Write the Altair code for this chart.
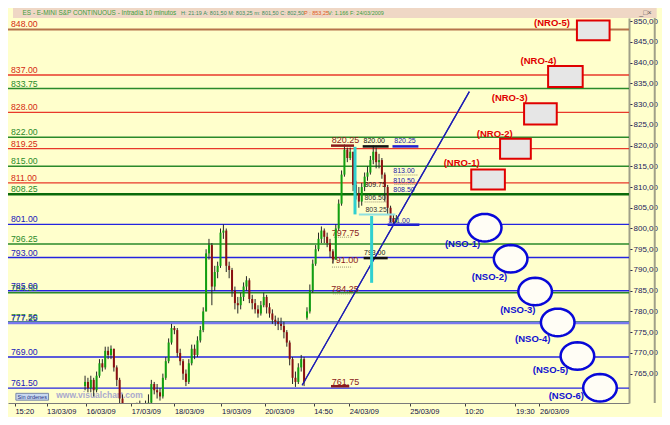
import math
import altair as alt
import pandas as pd

FONT = "Liberation Sans"
W, H = 621, 385

# ---------------- data ----------------
# horizontal support / resistance levels
level_values = [848.00, 837.00, 833.75, 828.00, 822.00, 819.25, 815.00, 811.00, 808.25,
                801.00, 796.25, 793.00, 784.50, 785.00, 777.50, 777.25, 769.00, 761.50]
level_labels = ["848.00", "837.00", "833.75", "828.00", "822.00", "819.25", "815.00", "811.00", "808.25",
                "801.00", "796.25", "793.00", "784.50", "785.00", "777.50", "777.25", "769.00", "761.50"]
level_kinds = ["brown", "red", "green", "red", "green", "red", "green", "red", "dkgreen",
               "blue", "green", "blue", "green", "blue", "green", "lav", "blue", "blue"]

# candles (time slot, open, high, low, close)
candle_slot = [75, 78, 81, 84, 87, 90, 93, 96, 99, 102, 105, 108, 111, 114, 117, 120, 123, 126, 129,
               132, 135, 138, 141, 144, 147, 150, 153, 156, 159, 162, 165, 168, 171, 174, 177, 180,
               183, 186, 189, 192, 195, 198, 201, 204, 207, 210, 213, 216, 219, 222, 225, 228, 231,
               234, 237, 240, 243, 246, 249, 252, 255, 258, 261, 264, 267, 270, 273, 276, 279, 282,
               285, 288, 291, 294, 297, 300, 303, 306, 309, 312, 315, 318, 321, 324, 327, 330, 333,
               336, 339, 342, 345, 348, 351, 354, 357, 360, 363, 366, 369, 372, 375, 378, 381, 384,
               387, 390, 393, 396, 399]
candle_open = [762.0, 763.0, 761.5, 763.5, 761.0, 764.5, 767.5, 766.5, 770.5, 769.5, 771.0, 766.5, 763.5,
               759.0, 756.0, 754.5, 753.5, 754.5, 755.5, 757.0, 756.0, 755.0, 757.5, 758.0, 762.5, 761.0,
               760.5, 759.5, 764.0, 768.0, 772.5, 776.0, 775.5, 770.0, 768.0, 765.0, 763.0, 767.5, 771.0,
               769.5, 773.0, 775.5, 780.0, 794.0, 796.0, 786.0, 789.5, 791.0, 799.0, 799.5, 791.0, 790.0,
               785.0, 782.0, 781.5, 783.5, 786.0, 787.5, 783.0, 782.0, 780.5, 779.5, 781.5, 783.5, 781.0,
               779.5, 778.0, 777.5, 777.0, 776.5, 775.0, 772.5, 768.5, 764.0, 763.0, 766.5, 768.5, 778.5,
               780.0, 785.0, 791.5, 795.0, 797.5, 799.5, 798.0, 796.5, 794.5, 792.5, 800.0, 806.0, 813.0,
               819.0, 817.0, 818.5, 810.5, 808.5, 806.5, 810.0, 812.5, 813.5, 816.5, 818.5, 816.0, 816.5,
               813.0, 810.0, 805.0, 802.5, 801.5]
candle_high = [764.5, 764.0, 764.5, 764.0, 765.5, 768.5, 768.5, 771.5, 771.5, 771.8, 771.0, 767.0, 764.0,
               760.0, 757.0, 755.5, 755.5, 756.5, 758.0, 758.5, 757.0, 758.5, 760.0, 763.5, 763.0, 762.5,
               761.5, 765.0, 769.0, 773.5, 777.0, 776.5, 776.0, 771.0, 768.5, 766.0, 768.5, 772.0, 772.0,
               774.0, 776.5, 781.0, 795.0, 797.5, 796.5, 791.0, 792.0, 800.0, 801.0, 800.0, 792.0, 790.5,
               786.0, 783.5, 784.5, 787.0, 788.5, 788.0, 784.0, 783.0, 781.5, 782.5, 784.5, 784.0, 782.0,
               780.5, 779.0, 778.5, 778.5, 777.5, 775.5, 773.0, 769.0, 765.5, 767.5, 769.5, 769.0, 781.0,
               786.5, 792.5, 796.0, 799.0, 800.5, 800.0, 799.0, 797.5, 795.0, 801.0, 807.0, 814.0, 820.25,
               819.5, 819.5, 818.5, 811.5, 810.0, 811.0, 813.5, 815.0, 817.5, 820.0, 819.5, 818.0, 817.0,
               813.5, 810.5, 805.5, 803.5, 803.25]
candle_low = [761.0, 760.5, 760.5, 759.5, 760.5, 764.0, 765.5, 766.0, 768.5, 768.5, 765.5, 762.0, 757.5,
              754.5, 753.5, 752.5, 753.0, 753.5, 755.0, 755.0, 754.0, 754.5, 756.5, 757.5, 760.0, 759.0,
              758.5, 759.0, 763.5, 767.5, 772.0, 774.5, 769.0, 767.0, 763.5, 762.0, 762.5, 767.0, 768.5,
              769.0, 772.5, 775.0, 780.0, 792.5, 781.5, 785.0, 788.0, 790.5, 797.5, 789.5, 788.0, 783.5,
              780.5, 779.5, 780.5, 782.5, 785.0, 782.0, 780.5, 779.5, 778.5, 779.0, 781.0, 779.5, 778.5,
              777.0, 776.5, 775.5, 775.5, 773.5, 771.5, 767.0, 762.5, 761.8, 762.5, 765.5, 762.0, 778.0,
              779.5, 784.5, 791.0, 794.5, 796.5, 796.5, 795.5, 793.0, 791.5, 792.5, 799.5, 805.5, 812.5,
              816.0, 816.5, 809.0, 807.0, 805.0, 805.5, 809.0, 811.5, 813.0, 815.5, 814.5, 814.5, 812.0,
              806.5, 803.5, 801.5, 801.0, 801.5]
candle_close = [763.0, 761.5, 763.5, 761.0, 764.5, 767.5, 766.5, 770.5, 769.5, 771.0, 766.5, 763.5, 759.0,
                756.0, 754.5, 753.5, 754.5, 755.5, 757.0, 756.0, 755.0, 757.5, 758.0, 762.5, 761.0, 760.5,
                759.5, 764.0, 768.0, 772.5, 776.0, 775.5, 770.0, 768.0, 765.0, 763.0, 767.5, 771.0, 769.5,
                773.0, 775.5, 780.0, 794.0, 796.0, 786.0, 789.5, 791.0, 799.0, 799.5, 791.0, 790.0, 785.0,
                782.0, 781.5, 783.5, 786.0, 787.5, 783.0, 782.0, 780.5, 779.5, 781.5, 783.5, 781.0, 779.5,
                778.0, 777.5, 777.0, 776.5, 775.0, 772.5, 768.5, 764.0, 763.0, 766.5, 768.5, 763.0, 780.0,
                785.0, 791.5, 795.0, 797.5, 799.5, 798.0, 796.5, 794.5, 792.5, 800.0, 806.0, 813.0, 819.0,
                817.0, 818.5, 810.5, 808.5, 806.5, 810.0, 812.5, 813.5, 816.5, 818.5, 816.0, 816.5, 813.0,
                810.0, 805.0, 802.5, 801.5, 802.5]

# x axis ticks
tick_slots = [2, 35, 76, 123, 168, 217, 262, 313, 350, 413, 470, 523, 548]
tick_labels = ["15:20", "13/03/09", "16/03/09", "17/03/09", "18/03/09", "19/03/09", "20/03/09",
               "14:50", "24/03/09", "25/03/09", "10:20", "19:30", "26/03/09"]
price_ticks = [765, 770, 775, 780, 785, 790, 795, 800, 805, 810, 815, 820, 825, 830, 835, 840, 845, 850]

# NRO boxes (resistance projections)
nro_names = ["(NRO-1)", "(NRO-2)", "(NRO-3)", "(NRO-4)", "(NRO-5)"]
nro_x0 = [477, 507, 532, 557, 587]
nro_x1 = [512, 539, 566, 593, 621]
nro_top = [814.24, 821.66, 830.2, 839.2, 850.14]
nro_bottom = [809.4, 816.81, 825.1, 834.1, 845.38]
nro_label_x = [467, 501.5, 517, 547, 561]
nro_label_v = [815.7, 822.8, 831.4, 840.4, 849.6]

# NSO ellipses (support projections)
nso_names = ["(NSO-1)", "(NSO-2)", "(NSO-3)", "(NSO-4)", "(NSO-5)", "(NSO-6)"]
nso_cx = [491, 518, 543.5, 567, 587.5, 611]
nso_cv = [800.2, 792.7, 784.8, 777.35, 769.25, 761.6]
nso_label_x = [468, 496, 525.5, 541, 559.5, 576]
nso_label_v = [796.3, 788.4, 780.3, 773.4, 765.8, 759.6]

# price annotations
ann_text = ["820.25", "820.00", "820.25", "813.00", "810.50", "808.50", "809.75", "806.50", "803.25",
            "801.00", "797.75", "791.00", "793.00", "784.25", "761.75"]
ann_x = [346, 376, 408, 407, 407, 407, 377, 377, 378, 402, 346, 345, 376.5, 345.5, 346]
ann_v = [821.4, 821.0, 821.0, 813.8, 811.5, 809.4, 810.6, 807.4, 804.4, 801.8, 799.0, 792.3, 794.0, 785.4, 763.0]
ann_kind = ["dr", "bk", "bl", "bl", "bl", "bl", "bk", "gr", "gr", "bl", "dr", "dr", "bk", "dr", "dr"]

# thick underline markers
mark_x0 = [331, 364, 395, 390, 365, 331]
mark_x1 = [355, 391, 422, 423, 390, 350]
mark_v = [819.98, 819.8, 819.8, 800.9, 792.86, 761.97]
mark_kind = ["dr", "bk", "bl", "bl", "bk", "dr"]

# dotted underlines
dot_x0 = [334, 332, 333, 397, 397, 366]
dot_x1 = [353, 353, 353, 421, 421, 390]
dot_v = [797.9, 790.7, 784.25, 812.9, 810.6, 806.4]

# cyan range bars
cyan_x = [356, 373.3]
cyan_top = [819.7, 803.0]
cyan_bottom = [803.4, 786.9]
cyan_h_x0 = [360]
cyan_h_x1 = [398]
cyan_h_v = [803.4]

# trend line
trend_slot = [301, 475]
trend_v = [762.2, 833.0]

# header and frame
header_span = [0, 670]
frame_right = [668]
header_x = [10, 175, 303, 328, 652]
header_text = ["ES - E-MINI S&P CONTINUOUS - Intradía 10 minutos",
               "H: 21:19 A: 801,50 M: 803,25 m: 801,50 C: 802,50",
               "P : 853,25", "V: 1.166 F: 24/03/2009", "_□×"]
header_color = ["#3c9c3c", "#3c8c5c", "#e05a20", "#3c9c3c", "#555555"]
header_size = [6.4, 5.5, 5.5, 5.5, 7]

# ---------------- styles ----------------
kind_line = {"brown": "#b5734a", "red": "#e8392a", "green": "#2a8a2a", "dkgreen": "#0a6a0a",
             "blue": "#2424e0", "lav": "#7878f0"}
kind_text = {"brown": "#d42a10", "red": "#d42a10", "green": "#2a8a2a", "dkgreen": "#2a8a2a",
             "blue": "#1818b8", "lav": "#1818b8"}
kind_w = {"brown": 2, "red": 1.4, "green": 1.4, "dkgreen": 2.6, "blue": 1.4, "lav": 2.6}
ann_color = {"dr": "#8b1a1a", "bk": "#111111", "bl": "#2222aa", "gr": "#333333"}
ann_size = {"dr": 9, "bk": 7, "bl": 7, "gr": 7}

xscale = alt.Scale(domain=[0, 636], nice=False, zero=False)
yscale = alt.Scale(domain=[757.92, 850.76], nice=False, zero=False)

label_expr = ("[" + ",".join(f"'{t}'" for t in tick_labels) + "][indexof(["
              + ",".join(str(s) for s in tick_slots) + "], datum.value)]")
x_axis = alt.Axis(values=tick_slots, labelExpr=label_expr, labelAlign="left", labelBaseline="top",
                  labelPadding=1, tickSize=3, tickColor="#404040", domainColor="#7a7a7a",
                  labelFontSize=7.5, labelColor="#101048", labelFont=FONT, title=None, grid=False,
                  labelOverlap=False, labelFlush=False, labelBound=False)
y_axis = alt.Axis(orient="right", values=price_ticks,
                  labelExpr="replace(format(datum.value, '.2f'), '.', ',')",
                  tickSize=3, labelPadding=1, labelFontSize=8, labelColor="#1c1c5c", labelFont=FONT,
                  domainColor="#a0a088", domainWidth=2, tickColor="#303050", title=None, grid=False,
                  labelFlush=False, labelOverlap=False, labelBound=False)


def X(f):
    return alt.X(f, type="quantitative", scale=xscale, axis=x_axis)


def Y(f):
    return alt.Y(f, type="quantitative", scale=yscale, axis=y_axis)


levels = pd.DataFrame({
    "v": level_values, "t": level_labels,
    "lc": [kind_line[k] for k in level_kinds],
    "tc": [kind_text[k] for k in level_kinds],
    "w": [kind_w[k] for k in level_kinds],
})
candles = pd.DataFrame({"s": candle_slot, "o": candle_open, "h": candle_high,
                        "l": candle_low, "c": candle_close})
nro = pd.DataFrame({"n": nro_names, "x0": nro_x0, "x1": nro_x1, "t": nro_top, "b": nro_bottom,
                    "lx": nro_label_x, "lv": nro_label_v})
nso = pd.DataFrame({"n": nso_names, "cx": nso_cx, "cv": nso_cv, "lx": nso_label_x, "lv": nso_label_v})
ann = pd.DataFrame({"t": ann_text, "x": ann_x, "v": ann_v,
                    "c": [ann_color[k] for k in ann_kind], "fs": [ann_size[k] for k in ann_kind]})
marks = pd.DataFrame({"x0": mark_x0, "x1": mark_x1, "v": mark_v,
                      "c": [ann_color[k] if k != "bl" else "#2020d0" for k in mark_kind]})
dots = pd.DataFrame({"x0": dot_x0, "x1": dot_x1, "v": dot_v})
cyan_v = pd.DataFrame({"x": cyan_x, "t": cyan_top, "b": cyan_bottom})
cyan_h = pd.DataFrame({"x0": cyan_h_x0, "x1": cyan_h_x1, "v": cyan_h_v})
trend = pd.DataFrame({"s": trend_slot, "v": trend_v})
header_bg = pd.DataFrame({"x0": [header_span[0]], "x1": [header_span[1]]})
frame = pd.DataFrame({"x": frame_right})
header = pd.DataFrame({"x": header_x, "t": header_text, "c": header_color, "fs": header_size})
ui_box = pd.DataFrame({"x0": [3], "x1": [37], "t": [760.25], "b": [758.6]})
ui_text = pd.DataFrame({"x": [20], "v": [759.45], "t": ["Sin órdenes"]})
watermark = pd.DataFrame({"x": [45], "v": [759.8], "t": ["www.visualchart.com"]})

# ellipse symbol path (unit box -1..1)
pts = []
for k in range(37):
    a = 2 * math.pi * k / 36
    pts.append(f"{math.cos(a):.3f},{0.82 * math.sin(a):.3f}")
ELLIPSE = "M" + " L".join(pts) + " Z"

# ---------------- layers ----------------
l_header_bg = alt.Chart(header_bg).mark_rect(color="#efd7c5").encode(
    x=X("x0"), x2="x1", y=alt.value(-10), y2=alt.value(0))
l_header = alt.Chart(header).mark_text(align="left", baseline="middle", font=FONT).encode(
    x=X("x"), y=alt.value(-5), text="t:N", color=alt.Color("c:N", scale=None),
    size=alt.Size("fs:Q", scale=None))
l_frame = alt.Chart(frame).mark_rule(color="#a0a088", strokeWidth=2).encode(
    x=X("x"), y=alt.value(0), y2=alt.value(H))

l_rules = alt.Chart(levels).mark_rule().encode(
    y=Y("v"), color=alt.Color("lc:N", scale=None), strokeWidth=alt.StrokeWidth("w:Q", scale=None))
l_level_txt = alt.Chart(levels).mark_text(align="left", baseline="alphabetic", dy=-2, fontSize=8.7,
                                          font=FONT).encode(
    x=alt.value(3), y=Y("v"), text="t:N", color=alt.Color("tc:N", scale=None))

l_nro = alt.Chart(nro).mark_rect(fill="#e6e6e6", stroke="#e00000", strokeWidth=2).encode(
    x=X("x0"), x2="x1", y=Y("t"), y2="b")
l_nro_txt = alt.Chart(nro).mark_text(fontSize=9.5, fontWeight="bold", color="#e00000", font=FONT).encode(
    x=X("lx"), y=Y("lv"), text="n:N")

l_nso = alt.Chart(nso).mark_point(shape=ELLIPSE, size=1130, filled=True, fill="#fffdf5",
                                  stroke="#0808d8", strokeWidth=2.5, opacity=1).encode(
    x=X("cx"), y=Y("cv"))
l_nso_txt = alt.Chart(nso).mark_text(fontSize=9.5, fontWeight="bold", color="#1010d0", font=FONT).encode(
    x=X("lx"), y=Y("lv"), text="n:N")

l_wm = alt.Chart(watermark).mark_text(align="left", fontSize=8.5, fontWeight="bold", color="#aaaacc",
                                      font=FONT).encode(x=X("x"), y=Y("v"), text="t:N")
l_ui_box = alt.Chart(ui_box).mark_rect(fill="#c8d8f0", stroke="#7a88a8", strokeWidth=1).encode(
    x=X("x0"), x2="x1", y=Y("t"), y2="b")
l_ui_txt = alt.Chart(ui_text).mark_text(fontSize=5.5, color="#203080", font=FONT).encode(
    x=X("x"), y=Y("v"), text="t:N")

l_ann = alt.Chart(ann).mark_text(font=FONT).encode(
    x=X("x"), y=Y("v"), text="t:N", color=alt.Color("c:N", scale=None), size=alt.Size("fs:Q", scale=None))
l_dots = alt.Chart(dots).mark_rule(strokeDash=[1, 1], color="#9a9070", strokeWidth=1).encode(
    x=X("x0"), x2="x1", y=Y("v"))

l_wick = alt.Chart(candles).mark_rule(color="#262626", strokeWidth=1, clip=True).encode(
    x=X("s"), y=Y("l"), y2="h")
l_body = alt.Chart(candles).mark_bar(size=2, clip=True).encode(
    x=X("s"), y=Y("o"), y2="c",
    color=alt.condition("datum.c >= datum.o", alt.value("#10a010"), alt.value("#8a1010")))

l_trend = alt.Chart(trend).mark_line(color="#1c1cb4", strokeWidth=1.2).encode(x=X("s"), y=Y("v"))

l_cyan_v = alt.Chart(cyan_v).mark_rule(color="#30d0d0", strokeWidth=3).encode(
    x=X("x"), y=Y("t"), y2="b")
l_cyan_h = alt.Chart(cyan_h).mark_rule(color="#90e0e0", strokeWidth=2).encode(
    x=X("x0"), x2="x1", y=Y("v"))
l_marks = alt.Chart(marks).mark_rule(strokeWidth=2.5).encode(
    x=X("x0"), x2="x1", y=Y("v"), color=alt.Color("c:N", scale=None))

chart = alt.layer(
    l_trend, l_header_bg, l_header, l_frame, l_rules, l_level_txt, l_nro, l_nro_txt, l_nso, l_nso_txt,
    l_wm, l_ui_box, l_ui_txt, l_ann, l_dots, l_wick, l_body, l_trend, l_marks, l_cyan_h, l_cyan_v
).properties(
    width=W, height=H,
    padding={"left": 0, "top": 10, "right": 33, "bottom": 14},
    autosize=alt.AutoSizeParams(type="none"),
    background="#ffffcc",
).configure_view(stroke=None)

chart.save("out.html", embed_options={"renderer": "svg", "actions": False})
